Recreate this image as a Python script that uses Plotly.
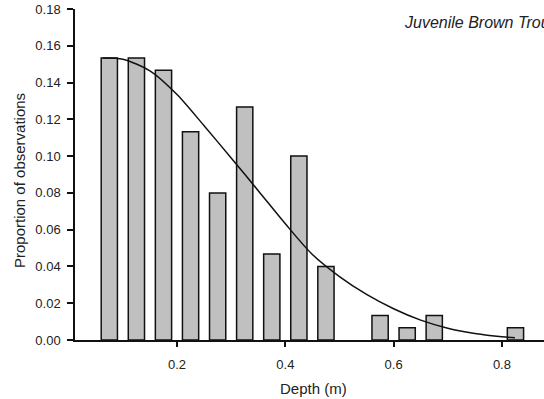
import plotly.graph_objects as go

# Histogram bins (bin centres, m) and proportions of observations
depth_bins = [0.075, 0.125, 0.175, 0.225, 0.275, 0.325, 0.375, 0.425, 0.475,
              0.575, 0.625, 0.675, 0.825]
proportions = [0.1533, 0.1533, 0.1467, 0.1133, 0.0800, 0.1267, 0.0467, 0.1000,
               0.0400, 0.0133, 0.0067, 0.0133, 0.0067]

# Fitted curve
curve_x = [0.063, 0.10, 0.15, 0.20, 0.25, 0.30, 0.35, 0.40, 0.45, 0.50, 0.55,
           0.60, 0.65, 0.70, 0.75, 0.80, 0.824]
curve_y = [0.1534, 0.1527, 0.1464, 0.1335, 0.1165, 0.0990, 0.0812, 0.0632, 0.0465,
           0.0345, 0.0248, 0.0170, 0.0108, 0.0064, 0.0035, 0.0017, 0.0012]

y_ticks = [0.00, 0.02, 0.04, 0.06, 0.08, 0.10, 0.12, 0.14, 0.16, 0.18]
x_ticks = [0.2, 0.4, 0.6, 0.8]

title_text = "Juvenile Brown Trout"
x_title = "Depth (m)"
y_title = "Proportion of observations"

FONT = "Liberation Sans, Arial, sans-serif"

fig = go.Figure()
fig.add_trace(go.Bar(
    x=depth_bins, y=proportions, width=0.03,
    marker=dict(color="#c0c0c0", line=dict(color="#111111", width=1.5)),
    showlegend=False,
))
fig.add_trace(go.Scatter(
    x=curve_x, y=curve_y, mode="lines",
    line=dict(color="#111111", width=1.5, shape="spline", smoothing=0.8),
    showlegend=False,
))

fig.update_layout(
    width=544, height=399, autosize=False,
    margin=dict(l=75, r=0, t=9, b=59),
    plot_bgcolor="white", paper_bgcolor="white",
    font=dict(family=FONT, color="#222222", size=13),
    xaxis=dict(
        range=[0.0116, 0.8777], tickvals=x_ticks, ticktext=[str(v) for v in x_ticks],
        ticks="outside", ticklen=5, tickwidth=1.5, tickcolor="#111111",
        showline=True, linecolor="#111111", linewidth=1.5,
        showgrid=False, zeroline=False, ticklabelstandoff=7,
        tickfont=dict(size=13),
    ),
    yaxis=dict(
        range=[0, 0.18], tickvals=y_ticks, ticktext=[f"{v:.2f}" for v in y_ticks],
        ticks="outside", ticklen=6, tickwidth=1.5, tickcolor="#111111",
        showline=True, linecolor="#111111", linewidth=1.5,
        showgrid=False, zeroline=False, ticklabelstandoff=4,
        tickfont=dict(size=13),
    ),
    annotations=[
        dict(text="<i>" + title_text + "</i>", xref="paper", yref="paper",
             x=(401.7 - 75) / 469, y=(340 - 22) / 331, xanchor="left", yanchor="middle",
             showarrow=False, font=dict(size=16, family=FONT, color="#222222")),
        dict(text=x_title, xref="paper", yref="paper",
             x=(313 - 75) / 469, y=(340 - 388) / 331, xanchor="center", yanchor="middle",
             showarrow=False, font=dict(size=15, family=FONT, color="#222222")),
        dict(text=y_title, xref="paper", yref="paper", textangle=-90,
             x=(19 - 75) / 469, y=(340 - 181) / 331, xanchor="center", yanchor="middle",
             showarrow=False, font=dict(size=15, family=FONT, color="#222222")),
    ],
)

fig.write_html("out.html")
